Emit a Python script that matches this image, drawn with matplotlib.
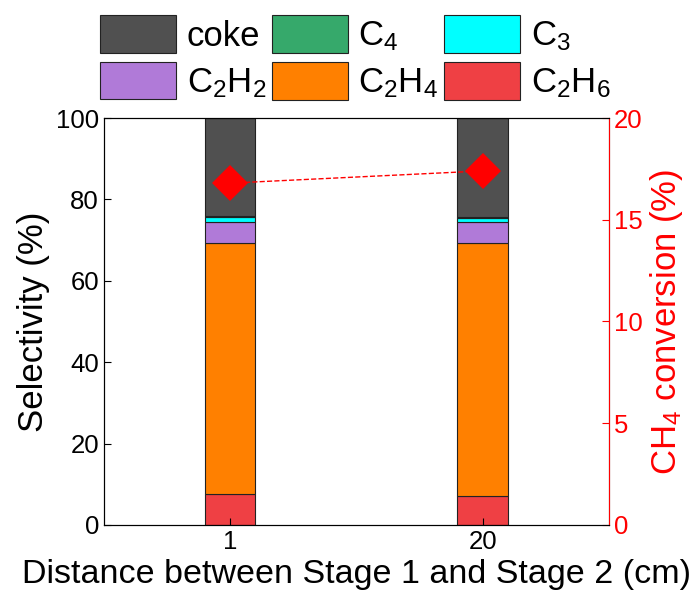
import numpy as np
import matplotlib.pyplot as plt
from matplotlib.patches import Patch

plt.rcParams['font.family'] = ['Liberation Sans', 'DejaVu Sans']
plt.rcParams['mathtext.fontset'] = 'custom'
plt.rcParams['mathtext.rm'] = 'Liberation Sans'
plt.rcParams['mathtext.it'] = 'Liberation Sans'

distances = ['1', '20']
c2h6 = [7.5, 7.2]
c2h4 = [61.8, 62.2]
c2h2 = [5.2, 5.0]
c3 = [1.1, 1.0]
c4 = [0.2, 0.2]
coke = [24.2, 24.4]
ch4_conv = [16.8, 17.4]

series = [
    ('C$_2$H$_6$', c2h6, '#ef4044'),
    ('C$_2$H$_4$', c2h4, '#ff8000'),
    ('C$_2$H$_2$', c2h2, '#b07ad8'),
    ('C$_3$', c3, '#00ffff'),
    ('C$_4$', c4, '#36a96b'),
    ('coke', coke, '#505050'),
]

fig, ax = plt.subplots(figsize=(6.96, 6.03), dpi=100)
fig.subplots_adjust(left=0.1494, right=0.875, top=0.8043, bottom=0.1294)

x = np.arange(len(distances))
bottom = np.zeros(len(distances))
for name, vals, col in series:
    ax.bar(x, vals, 0.2, bottom=bottom, color=col, edgecolor='#222222', linewidth=0.8)
    bottom += np.array(vals)

ax.set_xlim(-0.5, 1.5)
ax.set_ylim(0, 100)
ax.set_xticks(x)
ax.set_xticklabels(distances)
ax.set_yticks(range(0, 101, 20))
ax.tick_params(direction='in', labelsize=18.5, length=5)
ax.set_xlabel('Distance between Stage 1 and Stage 2 (cm)', fontsize=24.5, labelpad=4)
ax.set_ylabel('Selectivity (%)', fontsize=25)

ax2 = ax.twinx()
ax2.plot(x, ch4_conv, color='red', linestyle='--', linewidth=1, marker='D',
         markersize=18.5, markeredgewidth=0)
ax2.set_ylim(0, 20)
ax2.set_yticks(range(0, 21, 5))
ax2.tick_params(direction='in', labelsize=18.5, length=5, colors='red')
ax2.spines['right'].set_color('red')
ax2.set_ylabel('CH$_4$ conversion (%)', fontsize=25, color='red')

# legend filled column by column -> rows: coke C4 C3 / C2H2 C2H4 C2H6
order = ['coke', 'C$_2$H$_2$', 'C$_4$', 'C$_2$H$_4$', 'C$_3$', 'C$_2$H$_6$']
lookup = {n: c for n, _, c in series}
handles = [Patch(facecolor=lookup[n], edgecolor='#222222', linewidth=0.8, label=n) for n in order]
fig.legend(handles=handles, ncol=3, loc='upper left', bbox_to_anchor=(100 / 696, 1 - 15 / 603),
           frameon=False, fontsize=25, handlelength=2.2, handleheight=1.3,
           handletextpad=0.3, columnspacing=0.15, labelspacing=0.25,
           borderpad=0, borderaxespad=0)

fig.savefig('out.png', dpi=100)
